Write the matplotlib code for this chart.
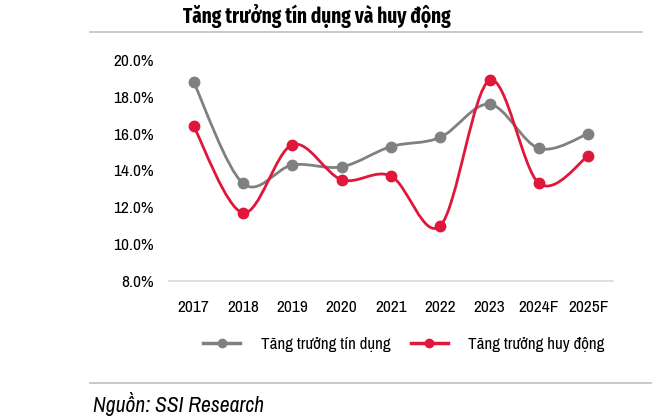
import numpy as np
import matplotlib.pyplot as plt
from matplotlib.path import Path
from matplotlib.patches import PathPatch
from matplotlib.lines import Line2D

### Data
years = ["2017", "2018", "2019", "2020", "2021", "2022", "2023", "2024F", "2025F"]
credit_growth = [18.8, 13.3, 14.3, 14.2, 15.3, 15.8, 17.6, 15.2, 16.0]   # Tăng trưởng tín dụng
deposit_growth = [16.4, 11.7, 15.4, 13.5, 13.7, 11.0, 18.9, 13.3, 14.8]  # Tăng trưởng huy động
y_ticks = [8, 10, 12, 14, 16, 18, 20]

grey = "#808080"
red = "#E0173A"
narrow = ["Archivo Narrow", "DejaVu Sans"]
narrow_bold = ["Fira Sans Extra Condensed", "Fira Sans Condensed", "Archivo Narrow", "DejaVu Sans"]


def smooth_path(xs, ys):
    # excel-like smoothed line: catmull-rom as cubic bezier
    pts = np.column_stack([xs, ys]).astype(float)
    ext = np.vstack([pts[0], pts, pts[-1]])
    verts = [pts[0]]
    codes = [Path.MOVETO]
    for i in range(len(pts) - 1):
        p0, p1, p2, p3 = ext[i], ext[i + 1], ext[i + 2], ext[i + 3]
        verts += [p1 + (p2 - p0) / 6, p2 - (p3 - p1) / 6, p2]
        codes += [Path.CURVE4] * 3
    return Path(verts, codes)


fig = plt.figure(figsize=(6.69, 4.18), dpi=100)
ax = fig.add_axes([169 / 669, 1 - 281 / 418, 444 / 669, 221 / 418])

x = np.arange(len(years))
for vals, col in [(credit_growth, grey), (deposit_growth, red)]:
    ax.add_patch(PathPatch(smooth_path(x, vals), facecolor="none", edgecolor=col,
                           lw=2.0, capstyle="round", joinstyle="round", zorder=2))
    ax.plot(x, vals, "o", color=col, markersize=7.5, zorder=3)

ax.set_xlim(-0.5, len(years) - 0.5)
ax.set_ylim(8, 20)
ax.set_xticks(x)
ax.set_xticklabels(years, fontsize=12.5, family=narrow)
ax.set_yticks(y_ticks)
ax.set_yticklabels([f"{v:.1f}%" for v in y_ticks], fontsize=12.5, family=narrow)
ax.tick_params(length=0)
ax.tick_params(axis="y", pad=11)
ax.tick_params(axis="x", pad=14)
for s in ["top", "right", "left"]:
    ax.spines[s].set_visible(False)
ax.spines["bottom"].set_color("#d9d9d9")
ax.spines["bottom"].set_linewidth(1.2)

handles = [Line2D([], [], color=grey, lw=2.5, marker="o", markersize=6),
           Line2D([], [], color=red, lw=2.5, marker="o", markersize=6)]
fig.legend(handles, ["Tăng trưởng tín dụng", "Tăng trưởng huy động"],
           loc="center", bbox_to_anchor=(404 / 669, 1 - 344 / 418), ncol=2,
           frameon=False, prop={"family": narrow, "size": 12.2},
           handlelength=2.2, handletextpad=1.2, columnspacing=1.2)

# title, rules and source
fig.text(317 / 669, 1 - 16 / 418, "Tăng trưởng tín dụng và huy động", ha="center", va="center",
         fontsize=15, fontweight="bold", family=narrow_bold)
fig.add_artist(Line2D([90 / 669, 642 / 669], [1 - 31.5 / 418] * 2, color="#bfbfbf", lw=1.2))
fig.add_artist(Line2D([90 / 669, 651 / 669], [1 - 383 / 418] * 2, color="#bfbfbf", lw=1.2))
fig.text(93 / 669, 1 - 404 / 418, "Nguồn: SSI Research", ha="left", va="center",
         fontsize=15.5, style="italic", family=narrow)

fig.savefig("out.png", dpi=100)
